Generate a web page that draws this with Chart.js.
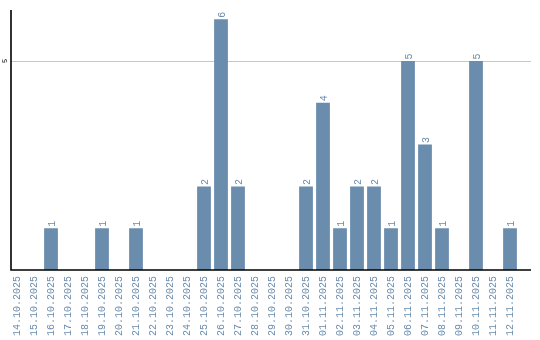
<!DOCTYPE html>
<html><head><meta charset="utf-8">
<script src="https://cdn.jsdelivr.net/npm/chart.js@4/dist/chart.umd.min.js"></script>
<style>html,body{margin:0;padding:0;background:#fff}#wrap{width:540px;height:340px}</style>
</head><body><div id="wrap"><canvas id="c" width="540" height="340"></canvas></div>
<script>
const categories = ["14.10.2025","15.10.2025","16.10.2025","17.10.2025","18.10.2025","19.10.2025","20.10.2025","21.10.2025","22.10.2025","23.10.2025","24.10.2025","25.10.2025","26.10.2025","27.10.2025","28.10.2025","29.10.2025","30.10.2025","31.10.2025","01.11.2025","02.11.2025","03.11.2025","04.11.2025","05.11.2025","06.11.2025","07.11.2025","08.11.2025","09.11.2025","10.11.2025","11.11.2025","12.11.2025"];
const values = [0,0,1,0,0,1,0,1,0,0,0,2,6,2,0,0,0,2,4,1,2,2,1,5,3,1,0,5,0,1];
const yTicks = [5];
const BLUE = '#6a8cad';
const AXIS_X = 11, AXIS_RIGHT = 531, AXIS_TOP = 10;

const linesPlugin = {
  id: 'linesPlugin',
  beforeDatasetsDraw(chart) {
    const ctx = chart.ctx, ys = chart.scales.y;
    ctx.save();
    ctx.strokeStyle = '#c8c8c8';
    ctx.lineWidth = 1;
    yTicks.forEach(t => {
      const y = Math.round(ys.getPixelForValue(t)) + 0.5;
      ctx.beginPath(); ctx.moveTo(AXIS_X, y); ctx.lineTo(AXIS_RIGHT, y); ctx.stroke();
    });
    ctx.restore();
  },
  afterDatasetsDraw(chart) {
    const ctx = chart.ctx;
    const meta = chart.getDatasetMeta(0);
    const ys = chart.scales.y;
    const y0 = ys.getPixelForValue(0);
    ctx.save();
    ctx.strokeStyle = '#000';
    ctx.lineWidth = 1.6;
    ctx.beginPath();
    ctx.moveTo(AXIS_X, AXIS_TOP); ctx.lineTo(AXIS_X, y0); ctx.lineTo(AXIS_RIGHT, y0);
    ctx.stroke();

    ctx.fillStyle = BLUE;
    ctx.font = '10px "Liberation Mono"';
    ctx.textAlign = 'left';
    ctx.textBaseline = 'middle';
    meta.data.forEach((bar, i) => {
      const v = values[i];
      if (!v) return;
      ctx.save();
      ctx.translate(bar.x + 1, bar.y - 1.5);
      ctx.rotate(-Math.PI / 2);
      ctx.fillText(String(v), 0, 0);
      ctx.restore();
    });
    ctx.fillStyle = '#000';
    ctx.font = '7px "Liberation Mono"';
    ctx.textAlign = 'center';
    yTicks.forEach(t => {
      ctx.save();
      ctx.translate(5, ys.getPixelForValue(t));
      ctx.rotate(-Math.PI / 2);
      ctx.fillText(String(t), 0, 0);
      ctx.restore();
    });
    ctx.restore();
  }
};

new Chart(document.getElementById('c'), {
  type: 'bar',
  data: { labels: categories, datasets: [{ data: values, backgroundColor: BLUE, barPercentage: 0.81, categoryPercentage: 1 }] },
  options: {
    responsive: false, animation: false,
    layout: { padding: { left: 8.5, right: 21.5, top: 10, bottom: 0 } },
    plugins: { legend: { display: false }, tooltip: { enabled: false } },
    scales: {
      x: {
        grid: { display: false, drawTicks: false },
        border: { display: false },
        ticks: { color: BLUE, font: { family: 'Liberation Mono', size: 10 }, minRotation: 90, maxRotation: 90, autoSkip: false, padding: 6 },
        afterFit(s) { s.height = 70; }
      },
      y: {
        min: 0, max: 6.22,
        afterBuildTicks(s) { s.ticks = yTicks.map(v => ({ value: v })); },
        grid: { display: false },
        border: { display: false },
        ticks: { display: false },
        afterFit(s) { s.width = 0; }
      }
    }
  },
  plugins: [linesPlugin]
});
</script></body></html>
